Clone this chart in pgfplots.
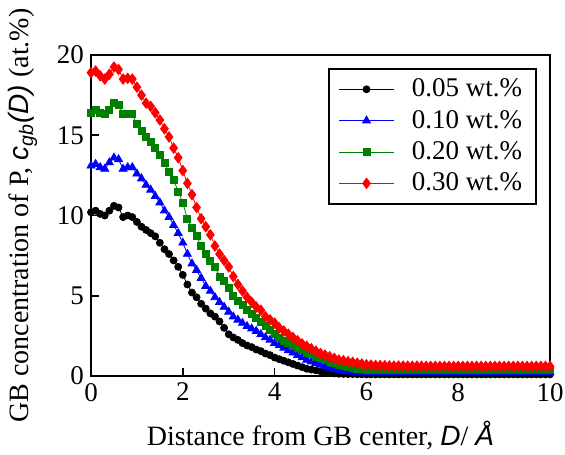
\documentclass[border=0pt]{standalone}
\usepackage{pgfplots}
\pgfplotsset{compat=1.18}
\usepackage{pgfplotstable}
\usepackage{fontspec}
\setmainfont{Liberation Serif}
\newfontfamily\sfam{Liberation Sans}
\definecolor{dgreen}{RGB}{0,128,0}

\pgfplotstableread{
x y
0.0 10.2
0.1 10.3
0.2 10.1
0.3 10.0
0.4 10.3
0.5 10.6
0.6 10.5
0.7 9.9
0.8 10.0
0.9 9.9
1.0 9.6
1.1 9.3
1.2 9.1
1.3 8.9
1.4 8.7
1.5 8.3
1.6 7.9
1.7 7.6
1.8 7.2
1.9 6.8
2.0 6.3
2.1 5.7
2.2 5.2
2.3 4.9
2.4 4.5
2.5 4.2
2.6 3.9
2.7 3.7
2.8 3.4
2.9 3.0
3.0 2.6
3.1 2.4
3.2 2.25
3.3 2.05
3.4 1.9
3.5 1.8
3.6 1.65
3.7 1.55
3.8 1.4
3.9 1.3
4.0 1.15
4.1 1.05
4.2 0.95
4.3 0.85
4.4 0.75
4.5 0.65
4.6 0.55
4.7 0.45
4.8 0.4
4.9 0.35
5.0 0.3
5.1 0.25
5.2 0.2
5.3 0.16
5.4 0.14
5.5 0.13
5.6 0.12
5.7 0.12
5.8 0.11
5.9 0.11
6.0 0.1
6.1 0.1
6.2 0.1
6.3 0.1
6.4 0.1
6.5 0.1
6.6 0.1
6.7 0.1
6.8 0.1
6.9 0.1
7.0 0.1
7.1 0.1
7.2 0.1
7.3 0.1
7.4 0.1
7.5 0.1
7.6 0.1
7.7 0.1
7.8 0.1
7.9 0.1
8.0 0.1
8.1 0.1
8.2 0.1
8.3 0.1
8.4 0.1
8.5 0.1
8.6 0.1
8.7 0.1
8.8 0.1
8.9 0.1
9.0 0.1
9.1 0.1
9.2 0.1
9.3 0.1
9.4 0.1
9.5 0.1
9.6 0.1
9.7 0.1
9.8 0.1
9.9 0.1
10.0 0.1
}\blackdata

\pgfplotstableread{
x y
0.0 13.1
0.1 13.2
0.2 13.0
0.3 12.9
0.4 13.3
0.5 13.6
0.6 13.5
0.7 12.9
0.8 13.0
0.9 13.0
1.0 12.6
1.1 12.3
1.2 11.9
1.3 11.6
1.4 11.2
1.5 10.8
1.6 10.3
1.7 9.9
1.8 9.4
1.9 8.9
2.0 8.3
2.1 7.6
2.2 7.0
2.3 6.6
2.4 6.1
2.5 5.6
2.6 5.3
2.7 4.9
2.8 4.6
2.9 4.3
3.0 4.0
3.1 3.7
3.2 3.5
3.3 3.3
3.4 3.1
3.5 2.95
3.6 2.8
3.7 2.6
3.8 2.4
3.9 2.25
4.0 2.05
4.1 1.9
4.2 1.75
4.3 1.6
4.4 1.45
4.5 1.3
4.6 1.15
4.7 1.0
4.8 0.9
4.9 0.8
5.0 0.7
5.1 0.6
5.2 0.5
5.3 0.42
5.4 0.35
5.5 0.3
5.6 0.27
5.7 0.25
5.8 0.24
5.9 0.23
6.0 0.22
6.1 0.22
6.2 0.22
6.3 0.22
6.4 0.22
6.5 0.22
6.6 0.22
6.7 0.22
6.8 0.22
6.9 0.22
7.0 0.22
7.1 0.22
7.2 0.22
7.3 0.22
7.4 0.22
7.5 0.22
7.6 0.22
7.7 0.22
7.8 0.22
7.9 0.22
8.0 0.22
8.1 0.22
8.2 0.22
8.3 0.22
8.4 0.22
8.5 0.22
8.6 0.22
8.7 0.22
8.8 0.22
8.9 0.22
9.0 0.22
9.1 0.22
9.2 0.22
9.3 0.22
9.4 0.22
9.5 0.22
9.6 0.22
9.7 0.22
9.8 0.22
9.9 0.22
10.0 0.22
}\bluedata

\pgfplotstableread{
x y
0.0 16.4
0.1 16.6
0.2 16.4
0.3 16.3
0.4 16.6
0.5 17.0
0.6 16.9
0.7 16.3
0.8 16.3
0.9 16.3
1.0 15.7
1.1 15.3
1.2 14.9
1.3 14.6
1.4 14.2
1.5 13.8
1.6 13.3
1.7 12.7
1.8 12.2
1.9 11.5
2.0 10.8
2.1 9.8
2.2 9.2
2.3 8.7
2.4 8.1
2.5 7.6
2.6 7.2
2.7 6.8
2.8 6.2
2.9 5.9
3.0 5.5
3.1 5.0
3.2 4.7
3.3 4.4
3.4 4.1
3.5 3.9
3.6 3.6
3.7 3.35
3.8 3.1
3.9 2.85
4.0 2.6
4.1 2.4
4.2 2.2
4.3 2.05
4.4 1.9
4.5 1.75
4.6 1.6
4.7 1.45
4.8 1.35
4.9 1.2
5.0 1.1
5.1 1.0
5.2 0.9
5.3 0.8
5.4 0.7
5.5 0.6
5.6 0.55
5.7 0.5
5.8 0.45
5.9 0.42
6.0 0.4
6.1 0.4
6.2 0.39
6.3 0.39
6.4 0.39
6.5 0.38
6.6 0.38
6.7 0.38
6.8 0.38
6.9 0.38
7.0 0.38
7.1 0.38
7.2 0.38
7.3 0.38
7.4 0.38
7.5 0.38
7.6 0.38
7.7 0.38
7.8 0.38
7.9 0.38
8.0 0.38
8.1 0.38
8.2 0.38
8.3 0.38
8.4 0.38
8.5 0.38
8.6 0.38
8.7 0.38
8.8 0.38
8.9 0.38
9.0 0.38
9.1 0.38
9.2 0.38
9.3 0.38
9.4 0.38
9.5 0.38
9.6 0.38
9.7 0.38
9.8 0.38
9.9 0.38
10.0 0.38
}\greendata

\pgfplotstableread{
x y
0.0 18.9
0.1 19.0
0.2 18.7
0.3 18.5
0.4 18.8
0.5 19.25
0.6 19.1
0.7 18.5
0.8 18.55
0.9 18.5
1.0 18.0
1.1 17.5
1.2 17.0
1.3 16.8
1.4 16.4
1.5 15.95
1.6 15.4
1.7 14.9
1.8 14.2
1.9 13.6
2.0 12.8
2.1 12.0
2.2 11.3
2.3 10.5
2.4 9.8
2.5 9.3
2.6 8.8
2.7 8.1
2.8 7.6
2.9 7.2
3.0 6.8
3.1 6.2
3.2 5.7
3.3 5.3
3.4 4.9
3.5 4.6
3.6 4.3
3.7 4.1
3.8 3.7
3.9 3.5
4.0 3.3
4.1 3.0
4.2 2.8
4.3 2.6
4.4 2.4
4.5 2.2
4.6 2.0
4.7 1.85
4.8 1.7
4.9 1.55
5.0 1.4
5.1 1.3
5.2 1.2
5.3 1.1
5.4 1.0
5.5 0.95
5.6 0.9
5.7 0.85
5.8 0.8
5.9 0.75
6.0 0.7
6.1 0.68
6.2 0.66
6.3 0.65
6.4 0.64
6.5 0.63
6.6 0.62
6.7 0.62
6.8 0.62
6.9 0.61
7.0 0.61
7.1 0.61
7.2 0.61
7.3 0.6
7.4 0.6
7.5 0.6
7.6 0.6
7.7 0.6
7.8 0.6
7.9 0.6
8.0 0.6
8.1 0.6
8.2 0.6
8.3 0.6
8.4 0.6
8.5 0.6
8.6 0.6
8.7 0.6
8.8 0.6
8.9 0.6
9.0 0.6
9.1 0.6
9.2 0.6
9.3 0.6
9.4 0.6
9.5 0.6
9.6 0.6
9.7 0.6
9.8 0.6
9.9 0.6
10.0 0.6
}\reddata

\begin{document}
\begin{tikzpicture}
\begin{axis}[
  scale only axis,
  width=229.5pt, height=160.5pt,
  xmin=0, xmax=10, ymin=0, ymax=20,
  xtick={0,2,4,6,8,10}, ytick={0,5,10,15,20},
  xtick pos=left, ytick pos=left,
  tick align=inside,
  major tick length=4pt,
  axis line style={line width=1pt},
  tick style={line width=0.8pt, black},
  /pgf/number format/assume math mode=true,
  tick label style={font=\fontsize{13.5}{15}\selectfont},
  xlabel={Distance from GB center, {\sfam\itshape D}/ {\sfam\itshape Å}},
  ylabel={GB concentration of P, {\sfam\itshape c\textsubscript{gb}(D)} (at.\%)},
  label style={font=\fontsize{14}{16}\selectfont},
  xlabel style={yshift=-3pt},
  ylabel style={yshift=3pt},
  legend cell align=left,
  legend style={at={(axis description cs:0.972,0.96)}, anchor=north east,
    draw=black, line width=1pt, font=\fontsize{13.5}{15}\selectfont,
    row sep=1.2pt, inner xsep=5pt, inner ysep=3pt,
    /tikz/every even column/.append style={column sep=0pt}},
  legend image code/.code={\draw[mark repeat=2,mark phase=2,#1]
    plot coordinates {(0pt,0pt)(13.75pt,0pt)(27.5pt,0pt)};},
]
\addplot[black, line width=0.4pt, mark=*, mark size=1.75pt, mark options={solid}] table[x=x,y=y] {\blackdata};
\addlegendentry{\,\,\,0.05 wt.\%}
\addplot[blue, line width=0.4pt, mark=triangle*, mark size=2.3pt, mark options={solid}] table[x=x,y=y] {\bluedata};
\addlegendentry{\,\,\,0.10 wt.\%}
\addplot[dgreen, line width=0.4pt, mark=square*, mark size=1.75pt, mark options={solid}] table[x=x,y=y] {\greendata};
\addlegendentry{\,\,\,0.20 wt.\%}
\addplot[red, line width=0.4pt, mark=diamond*, mark size=2.6pt, mark options={solid}] table[x=x,y=y] {\reddata};
\addlegendentry{\,\,\,0.30 wt.\%}
\end{axis}
\pgfresetboundingbox
\path (current axis.south west) ++(-45.5pt,-39pt) rectangle ++(282.5pt,227pt);
\end{tikzpicture}
\end{document}
